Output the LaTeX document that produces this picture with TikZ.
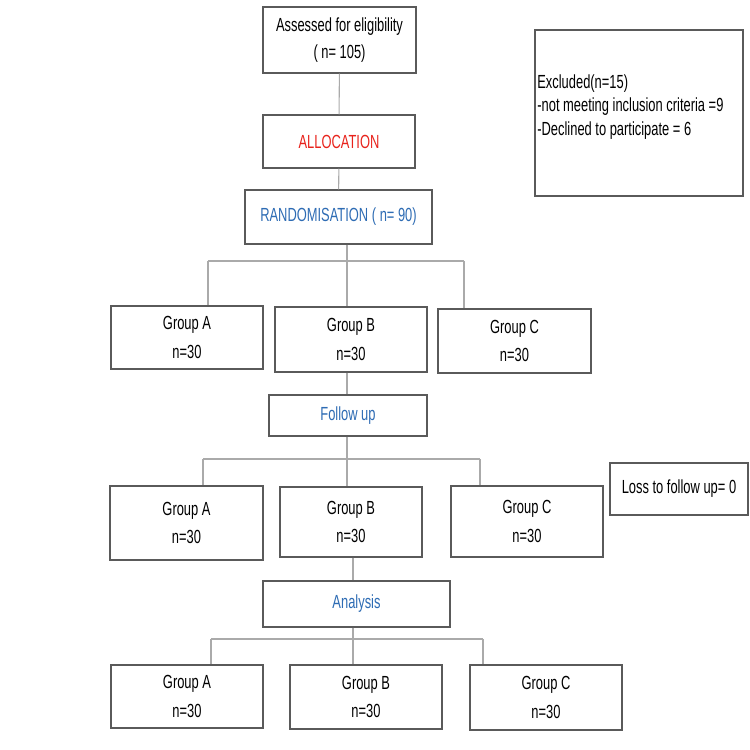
\documentclass[tikz,border=0pt]{standalone}
\usepackage{fontspec}
\setmainfont{Liberation Sans}[FakeStretch=0.68]
\usetikzlibrary{shadows}
\definecolor{boxline}{RGB}{90,90,90}
\definecolor{conn}{RGB}{170,170,170}
\definecolor{redtxt}{RGB}{232,35,28}
\definecolor{bluetxt}{RGB}{46,108,180}
\newdimen\pxu \pxu=0.02cm
\tikzset{
  box/.style={draw=boxline, line width=0.6pt, fill=white, align=center, inner sep=0pt,
    drop shadow={shadow xshift=0.5pt, shadow yshift=-0.6pt, fill=black!30, opacity=0.6},
    font=\fontsize{10.8}{16.4}\selectfont},
  conline/.style={draw=conn, line width=0.6pt},
}
\begin{document}
\begin{tikzpicture}[x=0.02cm, y=-0.02cm]
\useasboundingbox (0,0) rectangle (750,750);
% top
\node[box, minimum width=153*\pxu, minimum height=66*\pxu, font=\fontsize{10.8}{15.3}\selectfont] (assess) at (339.5,40) {Assessed for eligibility\\( n= 105)};
\node[box, minimum width=152*\pxu, minimum height=53*\pxu, text=redtxt] (alloc) at (339,141.5) {ALLOCATION};
\node[box, minimum width=187*\pxu, minimum height=54*\pxu, text=bluetxt] (rand) at (338.5,217) {RANDOMISATION ( n= 90)};
\node[box, minimum width=208*\pxu, minimum height=166*\pxu] (excl) at (639,113) {};
\node[anchor=west, align=left, inner sep=0pt, font=\fontsize{10.8}{13.3}\selectfont] (excltext) at (537,107)
  {Excluded(n=15)\\-not meeting inclusion criteria =9\\-Declined to participate = 6};
% row 1
\node[box, minimum width=152*\pxu, minimum height=63*\pxu] (a1) at (187,337.5) {Group A\\n=30};
\node[box, minimum width=152*\pxu, minimum height=65*\pxu] (b1) at (351,339.5) {Group B\\n=30};
\node[box, minimum width=153*\pxu, minimum height=64*\pxu] (c1) at (514.5,341) {Group C\\n=30};
% follow up
\node[box, minimum width=158*\pxu, minimum height=41*\pxu, text=bluetxt] (follow) at (348,415.5) {Follow up};
% row 2
\node[box, minimum width=153*\pxu, minimum height=74*\pxu] (a2) at (186.5,523) {Group A\\n=30};
\node[box, minimum width=142*\pxu, minimum height=70*\pxu] (b2) at (351,522) {Group B\\n=30};
\node[box, minimum width=152*\pxu, minimum height=71*\pxu] (c2) at (527,521.5) {Group C\\n=30};
\node[box, minimum width=138*\pxu, minimum height=52*\pxu] (loss) at (679,489) {Loss to follow up= 0};
% analysis
\node[box, minimum width=187*\pxu, minimum height=46*\pxu, text=bluetxt] (anal) at (356.5,604) {Analysis};
% row 3
\node[box, minimum width=152*\pxu, minimum height=63*\pxu] (a3) at (187,696.5) {Group A\\n=30};
\node[box, minimum width=152*\pxu, minimum height=64*\pxu] (b3) at (366,697) {Group B\\n=30};
\node[box, minimum width=152*\pxu, minimum height=65*\pxu] (c3) at (546,697.5) {Group C\\n=30};
% connectors
\begin{scope}[on background layer/.style={}]
\draw[conline] (assess) -- (alloc);
\draw[conline] (alloc) -- (rand);
\coordinate (m1) at (347,261);
\coordinate (l1) at (208,261);
\coordinate (r1) at (464,261);
\draw[conline] (rand.south -| m1) -- (b1.north -| m1);
\draw[conline] (l1) -- (r1);
\draw[conline] (l1) -- (a1.north -| l1);
\draw[conline] (r1) -- (c1.north -| r1);
\draw[conline] (b1.south -| m1) -- (follow.north -| m1);
\coordinate (m2) at (347,459);
\coordinate (l2) at (203,459);
\coordinate (r2) at (480,459);
\draw[conline] (follow.south -| m2) -- (b2.north -| m2);
\draw[conline] (l2) -- (r2);
\draw[conline] (l2) -- (a2.north -| l2);
\draw[conline] (r2) -- (c2.north -| r2);
\coordinate (m3) at (353,639);
\coordinate (l3) at (211,639);
\coordinate (r3) at (483,639);
\draw[conline] (b2.south -| m3) -- (anal.north -| m3);
\draw[conline] (anal.south -| m3) -- (b3.north -| m3);
\draw[conline] (l3) -- (r3);
\draw[conline] (l3) -- (a3.north -| l3);
\draw[conline] (r3) -- (c3.north -| r3);
\end{scope}
\end{tikzpicture}
\end{document}
